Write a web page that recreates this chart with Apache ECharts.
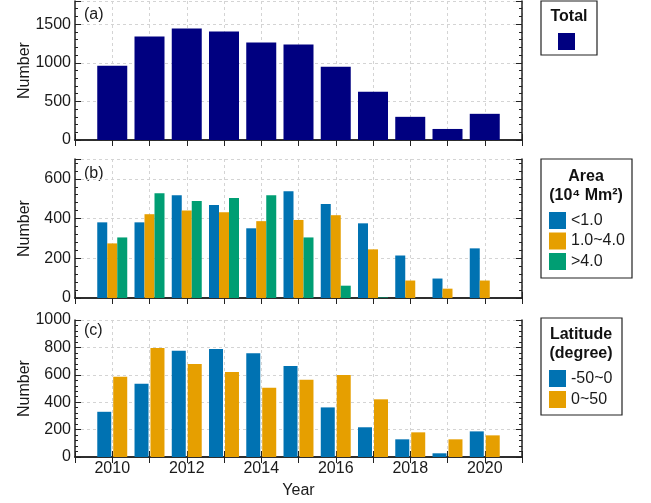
<!DOCTYPE html>
<html>
<head>
<meta charset="utf-8">
<script src="https://cdn.jsdelivr.net/npm/echarts@6/dist/echarts.min.js"></script>
<style>
  html, body { margin: 0; padding: 0; background: #fff; }
  #chart { width: 651px; height: 503px; }
</style>
</head>
<body>
<div id="chart"></div>
<script>
// data
var years = [2010, 2011, 2012, 2013, 2014, 2015, 2016, 2017, 2018, 2019, 2020];
var total = [963, 1341, 1445, 1406, 1263, 1237, 950, 625, 300, 143, 339];
var areaSmall = [381, 381, 518, 468, 351, 538, 473, 376, 214, 98, 250];
var areaMid = [275, 422, 441, 432, 387, 393, 417, 245, 88, 47, 88];
var areaLarge = [305, 528, 488, 503, 518, 305, 62, 3, 0, 0, 0];
var latSouth = [330, 535, 775, 788, 758, 665, 362, 217, 129, 27, 187];
var latNorth = [585, 795, 678, 620, 505, 563, 598, 421, 180, 129, 158];
var yMax = [1800, 700, 1000];
var yStep = [500, 200, 200];

var FONT = "Liberation Sans";
var navy = "#000080";
var blue = "#0072B2";
var orange = "#E69F00";
var green = "#009E73";

function pairs(vals) {
  return vals.map(function (v, i) { return [years[i], v]; });
}

function drawChart() {
  var myChart = echarts.init(document.getElementById("chart"));
  var grids = [
    { left: 75, right: 129, top: 1, height: 139 },
    { left: 75, right: 129, top: 159, height: 139 },
    { left: 75, right: 129, top: 320, height: 137 }
  ];
  var frame = { show: true, lineStyle: { color: "#222", width: 1.5 } };
  var dashed = { show: true, lineStyle: { color: "#d4d4d4", type: [3, 3], width: 1 } };

  var xAxis = [];
  var yAxis = [];
  grids.forEach(function (g, i) {
    var last = i === 2;
    xAxis.push({
      type: "value", gridIndex: i, min: 2009, max: 2021, interval: 1,
      axisLine: frame,
      axisTick: { show: true, inside: true, length: 6, lineStyle: { color: "#222" } },
      axisLabel: {
        show: last, color: "#1a1a1a", fontSize: 16, fontFamily: FONT, margin: 4,
        formatter: function (v) { return v % 2 === 0 && v > 2009 && v < 2021 ? String(v) : ""; }
      },
      splitLine: dashed,
      name: last ? "Year" : "", nameLocation: "middle", nameGap: 26,
      nameTextStyle: { color: "#1a1a1a", fontSize: 16, fontFamily: FONT }
    });
    xAxis.push({
      type: "value", gridIndex: i, position: "top", min: 2009, max: 2021, interval: 1,
      axisLine: frame,
      axisTick: { show: true, inside: true, length: 6, lineStyle: { color: "#222" } },
      axisLabel: { show: false }, splitLine: { show: false }
    });
    yAxis.push({
      type: "value", gridIndex: i, min: 0, max: yMax[i], interval: yStep[i],
      axisLine: frame,
      axisTick: { show: true, inside: true, length: 6, lineStyle: { color: "#222" } },
      minorTick: { show: true, splitNumber: 5, length: 3, lineStyle: { color: "#222" } },
      axisLabel: {
        color: "#1a1a1a", fontSize: 16, fontFamily: FONT, margin: 4, showMaxLabel: i === 2,
        formatter: function (v) { return String(v); }
      },
      splitLine: dashed,
      name: "Number", nameLocation: "middle", nameGap: 42, nameMoveOverlap: false,
      nameTextStyle: { color: "#1a1a1a", fontSize: 16, fontFamily: FONT }
    });
    yAxis.push({
      type: "value", gridIndex: i, position: "right", min: 0, max: yMax[i], interval: yStep[i],
      axisLine: frame,
      axisTick: { show: true, inside: true, length: 6, lineStyle: { color: "#222" } },
      minorTick: { show: true, splitNumber: 5, length: 3, lineStyle: { color: "#222" } },
      axisLabel: { show: false }, splitLine: { show: false }
    });
  });

  function bar(name, vals, color, grid, width, gap) {
    var s = {
      name: name, type: "bar", xAxisIndex: grid * 2, yAxisIndex: grid * 2,
      data: pairs(vals), barWidth: width, itemStyle: { color: color },
      emphasis: { disabled: true }, animation: false
    };
    if (gap !== undefined) s.barGap = gap;
    return s;
  }

  var legendText = { color: "#1a1a1a", fontSize: 16, fontFamily: FONT };
  var boxStyle = { fill: "#fff", stroke: "#222", lineWidth: 1.2 };
  var titleStyle = { fill: "#111", font: "bold 16px 'Liberation Sans'", textAlign: "center", textVerticalAlign: "middle" };
  var tagStyle = { fill: "#1a1a1a", font: "16px 'Liberation Sans'", textVerticalAlign: "middle" };

  var option = {
    animation: false,
    grid: grids,
    xAxis: xAxis,
    yAxis: yAxis,
    legend: [
      {
        data: ["Total"], left: 553, top: 28, itemWidth: 17, itemHeight: 17,
        icon: "rect", selectedMode: false, formatter: function () { return ""; }, textStyle: legendText
      },
      {
        data: ["<1.0", "1.0~4.0", ">4.0"], orient: "vertical", left: 544, top: 207,
        itemWidth: 17, itemHeight: 17, itemGap: 3.5, icon: "rect", selectedMode: false, textStyle: legendText
      },
      {
        data: ["-50~0", "0~50"], orient: "vertical", left: 544, top: 365,
        itemWidth: 17, itemHeight: 17, itemGap: 4, icon: "rect", selectedMode: false, textStyle: legendText
      }
    ],
    graphic: [
      { type: "rect", z: 0, shape: { x: 541, y: 1, width: 56, height: 54 }, style: boxStyle },
      { type: "text", x: 569, y: 17, style: Object.assign({ text: "Total" }, titleStyle) },
      { type: "rect", z: 0, shape: { x: 541, y: 159, width: 91, height: 119 }, style: boxStyle },
      { type: "text", x: 586, y: 177, style: Object.assign({ text: "Area" }, titleStyle) },
      { type: "text", x: 586, y: 196, style: Object.assign({ text: "(10\u2074 Mm\u00b2)" }, titleStyle) },
      { type: "rect", z: 0, shape: { x: 541, y: 318, width: 81, height: 97 }, style: boxStyle },
      { type: "text", x: 581, y: 335, style: Object.assign({ text: "Latitude" }, titleStyle) },
      { type: "text", x: 581, y: 354, style: Object.assign({ text: "(degree)" }, titleStyle) },
      { type: "text", x: 84, y: 15, style: Object.assign({ text: "(a)" }, tagStyle) },
      { type: "text", x: 84, y: 174, style: Object.assign({ text: "(b)" }, tagStyle) },
      { type: "text", x: 84, y: 331, style: Object.assign({ text: "(c)" }, tagStyle) }
    ],
    series: [
      bar("Total", total, navy, 0, 30),
      bar("<1.0", areaSmall, blue, 1, 10),
      bar("1.0~4.0", areaMid, orange, 1, 10),
      bar(">4.0", areaLarge, green, 1, 10, "0%"),
      bar("-50~0", latSouth, blue, 2, 14),
      bar("0~50", latNorth, orange, 2, 14, "14%")
    ]
  };

  myChart.setOption(option);
}

drawChart();
</script>
</body>
</html>
